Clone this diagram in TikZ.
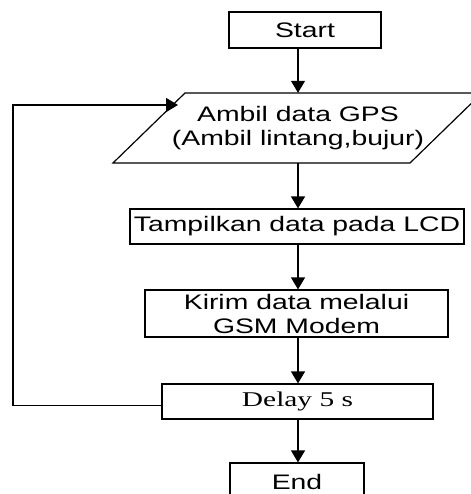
\documentclass[tikz,border=0pt]{standalone}
\usepackage{fontspec}
\setmainfont[FakeStretch=1.35]{Liberation Sans}
\newfontfamily\timesf[FakeStretch=1.4]{Liberation Serif}
\usetikzlibrary{arrows.meta}
\begin{document}
\begin{tikzpicture}[x=1pt,y=-1pt,
  box/.style={draw=black,line width=1.2pt,rectangle,inner sep=0pt,align=center,
    font=\fontsize{21}{24}\selectfont},
  flow/.style={line width=1.2pt,-{Triangle[width=14pt,length=12pt]}}]
\useasboundingbox (0,0) rectangle (470,494);
\fill[white] (0,0) rectangle (470,494);
% nodes
\node[box,minimum width=152pt,minimum height=36pt] (start) at (305,30) {Start};
\draw[line width=1.2pt] (113,163) -- (185,93) -- (482,93) -- (410,163) -- cycle;
\node[inner sep=0pt,minimum height=70pt,minimum width=200pt,align=center,
  font=\fontsize{21}{24}\selectfont] (gps) at (298,128) {Ambil data GPS\\(Ambil lintang,bujur)};
\node[box,minimum width=334pt,minimum height=35pt] (tamp) at (297,226.5) {Tampilkan data pada LCD};
\node[box,minimum width=303pt,minimum height=47pt] (kirim) at (296.5,313.5) {Kirim data melalui\\GSM Modem};
\node[box,minimum width=271pt,minimum height=35pt,font=\timesf\fontsize{21}{24}\selectfont] (delay) at (297.5,401.5) {Delay 5 s};
\node[box,minimum width=134pt,minimum height=38pt] (end) at (297,482) {End};
% connectors
\coordinate (lp) at (13,105);
\coordinate (lpend) at (178,105);
\draw[flow] (start.south -| gps.north) -- (gps.north);
\draw[flow] (gps.south) -- (gps.south |- tamp.north);
\draw[flow] (gps.south |- tamp.south) -- (gps.south |- kirim.north);
\draw[flow] (gps.south |- kirim.south) -- (gps.south |- delay.north);
\draw[flow] (gps.south |- delay.south) -- (gps.south |- end.north);
\draw[flow] ([yshift=-4pt]delay.west) -| (lp) -- (lpend);
\end{tikzpicture}
\end{document}
